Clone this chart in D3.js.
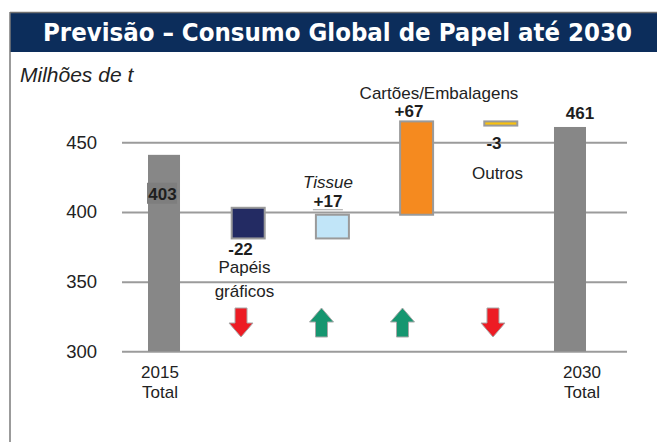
<!DOCTYPE html>
<html><head><meta charset="utf-8">
<script src="https://cdn.jsdelivr.net/npm/d3@7"></script>
<style>body{margin:0;background:#fff} svg{display:block}</style>
</head><body>
<svg id="c" width="657" height="442"></svg>
<script>
// ---- data ----
const title = "Previsão – Consumo Global de Papel até 2030";
const unitLabel = "Milhões de t";
const categories = ["2015 Total", "Papéis gráficos", "Tissue", "Cartões/Embalagens", "Outros", "2030 Total"];
const nameLines = [["2015", "Total"], ["Papéis", "gráficos"], ["Tissue"], ["Cartões/Embalagens"], ["Outros"], ["2030", "Total"]];
const kinds = ["total", "delta", "delta", "delta", "delta", "total"];
const barStart = [300, 403, 381, 398, 465, 300];
const barEnd = [441, 381, 398, 465, 462, 461];
const valueLabels = ["403", "-22", "+17", "+67", "-3", "461"];
const yTicks = [300, 350, 400, 450];

// ---- style / layout ----
const fills = ["#878787", "#232b63", "#c1e5f8", "#f58a1f", "#f9c10e", "#878787"];
const barNudge = [0, 0, 0, 0, 0, -15];
const valueDx = [-1.5, -7.7, -4.4, -7.6, -6.8, -5];
const nameDx = [-4, -3.8, -4.4, 22.4, -3.3, -3];
const arrowDx = [0, -7.2, -10.9, -14.1, -7.8, 0];
const italicName = [false, false, true, false, false, false];
const FONT = "'Liberation Sans', Arial, Helvetica, sans-serif";

const svg = d3.select("#c");
const W = 657, H = 442;

const x = d3.scaleBand().domain(categories).range([122, 627]).paddingInner(0.596).paddingOuter(0.297);
const y = d3.scaleLinear().domain([300, 450]).range([351.3, 142.3]);
const cx = i => x(categories[i]) + x.bandwidth() / 2;

// frame
svg.append("rect").attr("x", 10).attr("y", 12).attr("width", W - 10).attr("height", 40).attr("fill", "#0c2d5b");
svg.append("line").attr("x1", 10).attr("x2", W).attr("y1", 12.5).attr("y2", 12.5).attr("stroke", "#6f6f6f").attr("stroke-width", 1.5);
svg.append("line").attr("x1", 10).attr("x2", 10).attr("y1", 12).attr("y2", H).attr("stroke", "#7a7a7a").attr("stroke-width", 1.5);

svg.append("text").attr("x", 43).attr("y", 41)
  .attr("font-family", "'DejaVu Sans Condensed', 'DejaVu Sans', sans-serif")
  .attr("font-stretch", "condensed")
  .attr("font-weight", "bold").attr("font-size", 25.5).attr("fill", "#fff")
  .attr("textLength", 589).attr("lengthAdjust", "spacingAndGlyphs")
  .text(title);

svg.append("text").attr("x", 20).attr("y", 81.5)
  .attr("font-family", FONT).attr("font-style", "italic").attr("font-size", 21).attr("fill", "#222")
  .text(unitLabel);

// axis + gridlines
const axis = d3.axisLeft(y).tickValues(yTicks).tickSize(-(627 - 122)).tickPadding(25);
const gA = svg.append("g").attr("transform", "translate(122,0)").call(axis);
gA.select(".domain").remove();
gA.selectAll(".tick line").attr("stroke", "#9b9b9b").attr("stroke-width", 2);
gA.selectAll(".tick text").attr("font-family", FONT).attr("font-size", 18.5).attr("fill", "#222");

// bars
const idx = d3.range(categories.length);
svg.append("g").selectAll("rect").data(idx).join("rect")
  .attr("x", i => cx(i) + barNudge[i] - (kinds[i] === "total" ? 16 : 16.5))
  .attr("width", i => kinds[i] === "total" ? 32 : 33)
  .attr("y", i => y(Math.max(barStart[i], barEnd[i])))
  .attr("height", i => Math.abs(y(barStart[i]) - y(barEnd[i])))
  .attr("fill", i => fills[i])
  .attr("stroke", i => kinds[i] === "total" ? "none" : "#9a9a9a")
  .attr("stroke-width", 2);

function valueY(i) {
  const top = y(Math.max(barStart[i], barEnd[i]));
  const bot = y(Math.min(barStart[i], barEnd[i]));
  switch (i) {
    case 0: return y(barStart[1]) - 8;
    case 1: return bot + 17;
    case 2: return top - 8;
    case 3: return top - 4;
    case 4: return bot + 23;
    default: return top - 8;
  }
}
function nameY(i) {
  const top = y(Math.max(barStart[i], barEnd[i]));
  const bot = y(Math.min(barStart[i], barEnd[i]));
  switch (i) {
    case 0: case 5: return y(300) + 27;
    case 1: return bot + 34.5;
    case 2: return top - 27;
    case 3: return top - 22.7;
    case 4: return bot + 53;
  }
}

// background box behind first label
svg.append("rect").attr("x", cx(0) - 17).attr("y", valueY(0) - 17).attr("width", 30).attr("height", 21).attr("fill", "#7e7e7e");
// small rule under Tissue label
svg.append("line").attr("x1", cx(2) - 19.5).attr("x2", cx(2) + 10.5).attr("y1", valueY(2) + 3).attr("y2", valueY(2) + 3).attr("stroke", "#a0a0a0").attr("stroke-width", 1);

svg.append("g").selectAll("text").data(idx).join("text")
  .attr("x", i => cx(i) + valueDx[i])
  .attr("y", i => valueY(i))
  .attr("text-anchor", "middle")
  .attr("font-family", FONT).attr("font-weight", "bold").attr("font-size", 17).attr("fill", "#1e1e1e")
  .text(i => valueLabels[i]);

const nm = svg.append("g").selectAll("text").data(idx).join("text")
  .attr("x", i => cx(i) + nameDx[i])
  .attr("y", i => nameY(i))
  .attr("text-anchor", "middle")
  .attr("font-family", FONT).attr("font-size", 17).attr("fill", "#222")
  .attr("font-style", i => italicName[i] ? "italic" : "normal");
nm.each(function (i) {
  const t = d3.select(this);
  nameLines[i].forEach((s, k) => {
    t.append("tspan").attr("x", cx(i) + nameDx[i]).attr("dy", k === 0 ? 0 : (i === 1 ? 24 : 20)).text(s);
  });
});

// arrows
const aTop = 308, aBot = 337, aHalf = 12, sHalf = 6, head = 14;
function arrowPath(c, up) {
  if (up) {
    return `M${c},${aTop} L${c + aHalf},${aTop + head} L${c + sHalf},${aTop + head} L${c + sHalf},${aBot} L${c - sHalf},${aBot} L${c - sHalf},${aTop + head} L${c - aHalf},${aTop + head} Z`;
  }
  return `M${c},${aBot} L${c + aHalf},${aBot - head} L${c + sHalf},${aBot - head} L${c + sHalf},${aTop} L${c - sHalf},${aTop} L${c - sHalf},${aBot - head} L${c - aHalf},${aBot - head} Z`;
}
svg.append("g").selectAll("path").data(idx.filter(i => kinds[i] === "delta")).join("path")
  .attr("d", i => arrowPath(cx(i) + arrowDx[i], barEnd[i] > barStart[i]))
  .attr("fill", i => barEnd[i] > barStart[i] ? "#169670" : "#ed1c24")
  .attr("stroke", "#a8a8a8").attr("stroke-width", 1);
</script>
</body></html>
